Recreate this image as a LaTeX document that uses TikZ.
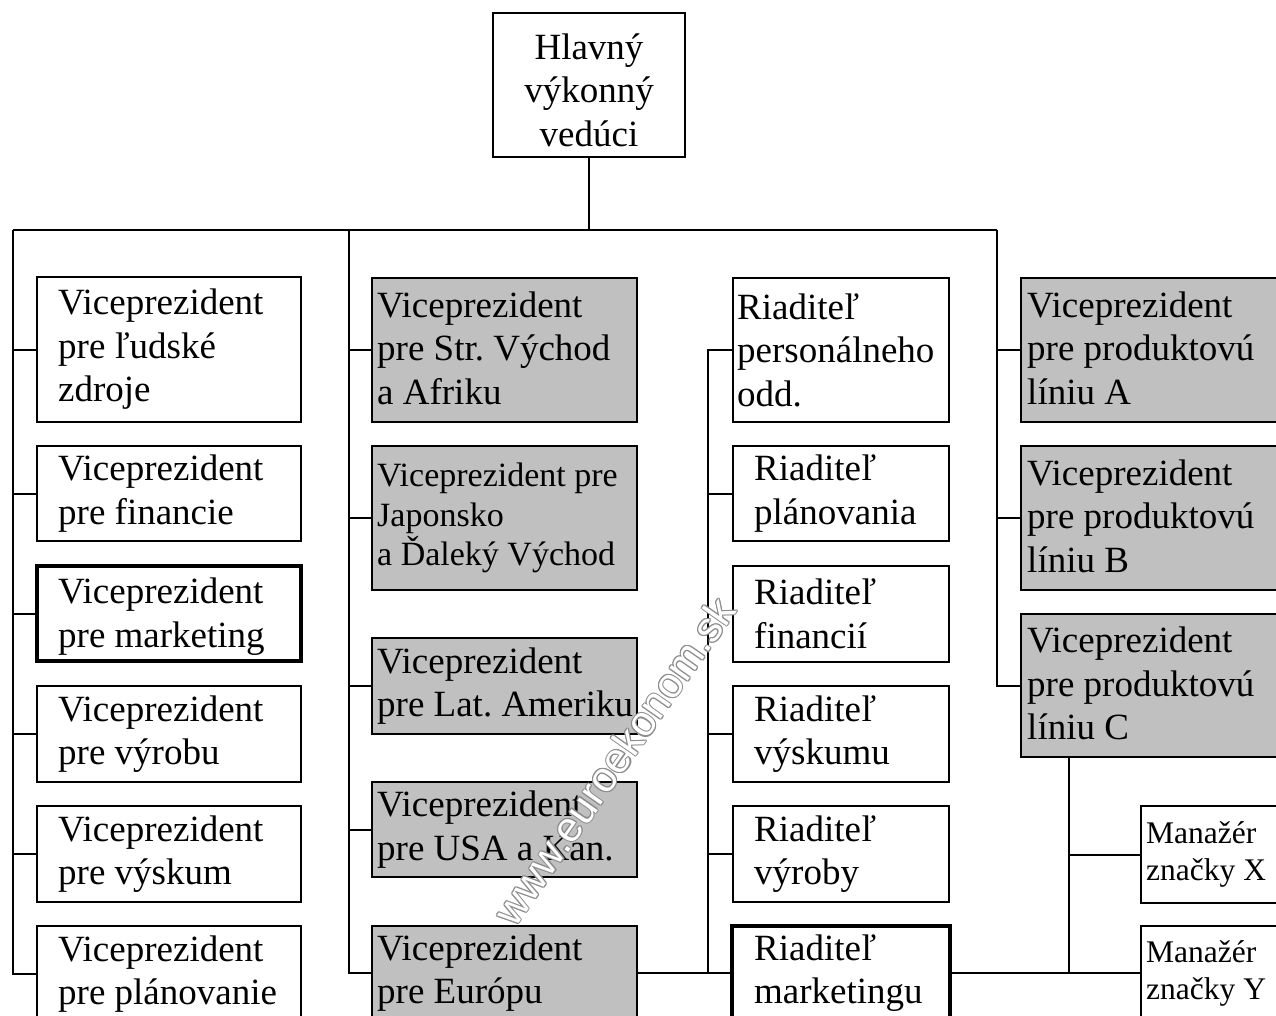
\documentclass[tikz,border=0pt]{standalone}
\usepackage{fontspec}
\setmainfont{Liberation Serif}
\newfontfamily\wmfont{Liberation Sans}
\definecolor{boxgray}{HTML}{C0C0C0}
\newcommand\mkbox[9]{%
  \node[#2, minimum width=#5, minimum height=#6] (#1) at (#3,#4) {};
  \node[txt,#9] (#1t) at ([xshift=#7]#1.west) {#8};
}
\tikzset{
  box/.style={draw, rectangle, line width=2pt, inner sep=0pt, outer sep=0pt, anchor=north west, fill=white},
  gbox/.style={box, fill=boxgray},
  tbox/.style={box, line width=3.5pt},
  conn/.style={line width=2pt},
  txt/.style={anchor=west, align=left, inner sep=0pt, font=\fontsize{37}{43.5}\selectfont\frenchspacing},
  smalltxt/.style={font=\fontsize{34}{39.5}\selectfont\frenchspacing},
  mgrtxt/.style={font=\fontsize{31.5}{37}\selectfont\frenchspacing},
  wmark/.style={rotate=55, inner sep=0pt, font=\wmfont\fontsize{42}{42}\selectfont},
}
\begin{document}
\frenchspacing
\begin{tikzpicture}[x=1pt,y=-1pt]
\useasboundingbox (0,0) rectangle (1276,1016);
\clip (0,0) rectangle (1276,1016);
\fill[white] (0,0) rectangle (1276,1016);

% CEO
\node[box, minimum width=192, minimum height=144] (ceo) at (493,13) {};
\node[txt, anchor=center, align=center] (ceot) at ([yshift=-5]ceo.center) {Hlavný\\výkonný\\vedúci};

% column 1
\mkbox{L1}{box}{37}{277}{264}{145}{21}{Viceprezident\\pre ľudské\\zdroje}{}
\mkbox{L2}{box}{37}{446}{264}{95}{21}{Viceprezident\\pre financie}{}
\mkbox{L3}{tbox}{37}{566}{264}{95}{21}{Viceprezident\\pre marketing}{yshift=-3}
\mkbox{L4}{box}{37}{686}{264}{96}{21}{Viceprezident\\pre výrobu}{}
\mkbox{L5}{box}{37}{806}{264}{96}{21}{Viceprezident\\pre výskum}{}
\mkbox{L6}{box}{37}{926}{264}{96}{21}{Viceprezident\\pre plánovanie}{}

% column 2
\mkbox{M1}{gbox}{372}{278}{265}{144}{5}{Viceprezident\\pre Str. Východ\\a Afriku}{yshift=2}
\mkbox{M2}{gbox}{372}{446}{265}{144}{5}{Viceprezident pre\\Japonsko\\a Ďaleký Východ}{smalltxt}
\mkbox{M3}{gbox}{372}{638}{265}{96}{5}{Viceprezident\\pre Lat. Ameriku}{}
\mkbox{M4}{gbox}{372}{782}{265}{95}{5}{Viceprezident\\pre USA a Kan.}{}
\mkbox{M5}{gbox}{372}{926}{265}{94}{5}{Viceprezident\\pre Európu}{}

% column 3
\mkbox{R1}{box}{733}{278}{216}{144}{4}{Riaditeľ\\personálneho\\odd.}{}
\mkbox{R2}{box}{733}{446}{216}{95}{21}{Riaditeľ\\plánovania}{}
\mkbox{R3}{box}{733}{566}{216}{96}{21}{Riaditeľ\\financií}{}
\mkbox{R4}{box}{733}{686}{216}{96}{21}{Riaditeľ\\výskumu}{}
\mkbox{R5}{box}{733}{806}{216}{96}{21}{Riaditeľ\\výroby}{}
\mkbox{R6}{tbox}{732}{926}{218}{94}{22}{Riaditeľ\\marketingu}{}

% column 4
\mkbox{P1}{gbox}{1021}{278}{300}{144}{6}{Viceprezident\\pre produktovú\\líniu A}{yshift=2}
\mkbox{P2}{gbox}{1021}{446}{300}{144}{6}{Viceprezident\\pre produktovú\\líniu B}{yshift=2}
\mkbox{P3}{gbox}{1021}{614}{300}{143}{6}{Viceprezident\\pre produktovú\\líniu C}{yshift=2}

% brand managers
\mkbox{X}{box}{1141}{806}{200}{97}{5}{Manažér\\značky X}{mgrtxt}
\mkbox{Y}{box}{1141}{926}{200}{94}{5}{Manažér\\značky Y}{mgrtxt}

% bus coordinates
\coordinate (c1top) at (13,230);
\coordinate (c2top) at (349,230);
\coordinate (c4top) at (997,230);
\coordinate (c3x) at (708,350);
\coordinate (c5) at (1069,757);

% connectors
\draw[conn] (ceo.south) -- (ceo.south |- c1top);
\draw[conn] (c1top) -- (c4top);
\draw[conn] (c1top) |- (L6.west);
\foreach \n in {L1,L2,L3,L4,L5} \draw[conn] (\n.west) -- (\n.west -| c1top);
\draw[conn] (c2top) |- (M5.west);
\foreach \n in {M1,M2,M3,M4} \draw[conn] (\n.west) -- (\n.west -| c2top);
\draw[conn] (R1.west) -- (c3x) |- (R6.west);
\foreach \n in {R2,R3,R4,R5} \draw[conn] (\n.west) -- (\n.west -| c3x);
\draw[conn] (M5.east) -- (M5.east -| c3x);
\draw[conn] (c4top) |- (P3.west);
\foreach \n in {P1,P2} \draw[conn] (\n.west) -- (\n.west -| c4top);
\draw[conn] (c5) |- (Y.west);
\draw[conn] (R6.east) -- (R6.east -| c5);
\draw[conn] (X.west) -- (X.west -| c5);

% watermark (outlined: gray copies around, white copy on top)
\coordinate (wmc) at (614,761);
\foreach \a in {0,45,...,315}
  \node[wmark, text=black!45] (wm\a) at ([shift={(\a:1.1)}]wmc) {www.euroekonom.sk};
\node[wmark, text=white] (wm) at (wmc) {www.euroekonom.sk};
\end{tikzpicture}
\end{document}
